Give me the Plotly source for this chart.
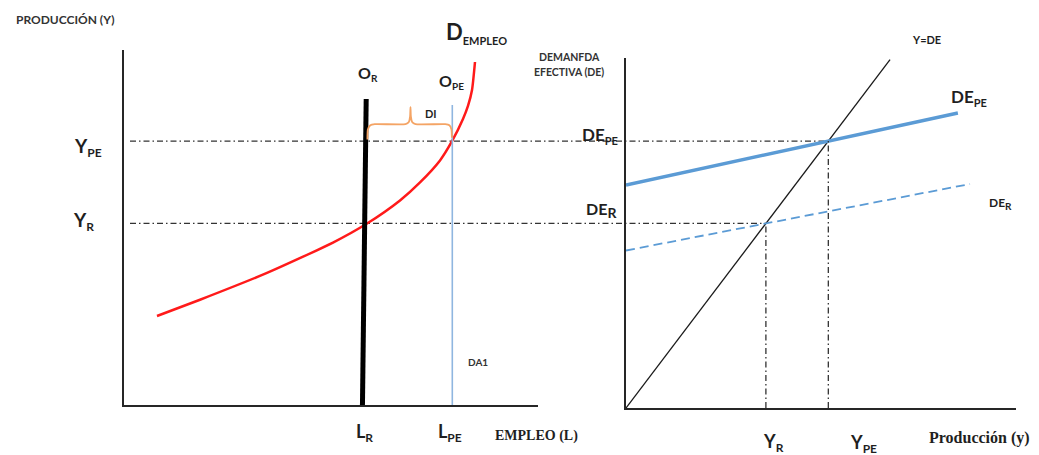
import plotly.graph_objects as go

W, H = 1039, 455

# ---------------- DATA ----------------
# Left panel: labour market (x = employment L, y = production Y), axis units 0..100
demp_L = [7.97, 18.36, 34.54, 50.48, 58.70, 66.67, 71.50, 76.33, 79.23, 81.88, 83.09, 84.06, 84.78]
demp_Y = [25.07, 29.66, 37.21, 45.77, 51.13, 57.63, 62.70, 68.90, 74.31, 80.56, 84.23, 88.73, 96.62]
or_L = [58.5, 57.6]          # O_R (thick black)
or_Y = [86.2, 0.0]
ope_L = [79.3, 79.3]         # O_PE (thin blue)
ope_Y = [84.5, -0.8]
brace_L = [58.8, 58.9, 59.5, 60.6, 68.0, 68.8, 69.1, 69.2, 69.3, 69.6, 70.4, 77.6, 78.6, 79.1, 79.2]
brace_Y = [74.8, 77.6, 78.8, 79.1, 79.1, 79.7, 81.2, 83.9, 81.2, 79.7, 79.1, 79.1, 78.8, 77.6, 75.3]

# Right panel: effective demand (x = production y, y = DE), axis units 0..100
yde_x = [0.0, 67.7]
yde_slope = 1.47
depe_x = [0.0, 85.1]
depe_y = [63.7, 84.3]
der_x = [0.0, 88.2]
der_y = [45.0, 64.0]

# ---------------- GEOMETRY ----------------
L_dom = [124 / W, 538 / W]
L_ydom = [(H - 405) / H, (H - 50) / H]
R_dom = [626 / W, 1016 / W]
R_ydom = [(H - 408) / H, (H - 58) / H]


def px(x):
    return x / W


def py(y):
    return 1 - y / H


def cross(xs, ys):
    b = (ys[1] - ys[0]) / (xs[1] - xs[0])
    a = ys[0]
    xi = a / (yde_slope - b)
    return xi, yde_slope * xi


xi_pe, yi_pe = cross(depe_x, depe_y)
xi_r, yi_r = cross(der_x, der_y)


def x2_to_paper(v):
    return R_dom[0] + v / 100 * (R_dom[1] - R_dom[0])


DASHDOT = "6px,3px,1.5px,3px"
AX = "#262626"

fig = go.Figure()

# Left panel traces
fig.add_trace(go.Scatter(x=demp_L, y=demp_Y, mode="lines", line=dict(color="#ff1a1a", width=2.5, shape="spline", smoothing=0.6),
                         xaxis="x", yaxis="y", hoverinfo="skip"))
fig.add_trace(go.Scatter(x=ope_L, y=ope_Y, mode="lines", line=dict(color="#8fb6e0", width=1.6),
                         xaxis="x", yaxis="y", hoverinfo="skip", cliponaxis=False))
fig.add_trace(go.Scatter(x=or_L, y=or_Y, mode="lines", line=dict(color="#000000", width=5),
                         xaxis="x", yaxis="y", hoverinfo="skip"))
fig.add_trace(go.Scatter(x=brace_L, y=brace_Y, mode="lines", line=dict(color="#f4a465", width=1.8, shape="spline", smoothing=0.5),
                         xaxis="x", yaxis="y", hoverinfo="skip"))

# Right panel traces
fig.add_trace(go.Scatter(x=yde_x, y=[v * yde_slope for v in yde_x], mode="lines", line=dict(color="#1a1a1a", width=1.3),
                         xaxis="x2", yaxis="y2", hoverinfo="skip"))
fig.add_trace(go.Scatter(x=depe_x, y=depe_y, mode="lines", line=dict(color="#5b9bd5", width=3.5),
                         xaxis="x2", yaxis="y2", hoverinfo="skip"))
fig.add_trace(go.Scatter(x=der_x, y=der_y, mode="lines", line=dict(color="#5b9bd5", width=1.8, dash="9px,5px"),
                         xaxis="x2", yaxis="y2", hoverinfo="skip"))
for xi, yi in [(xi_r, yi_r), (xi_pe, yi_pe)]:
    fig.add_trace(go.Scatter(x=[xi, xi], y=[0, yi], mode="lines", line=dict(color="#333333", width=1.3, dash=DASHDOT),
                             xaxis="x2", yaxis="y2", hoverinfo="skip"))

# Horizontal dash-dot guides spanning both panels
shapes = []
for xi, yi in [(xi_pe, yi_pe), (xi_r, yi_r)]:
    shapes.append(dict(type="line", xref="paper", yref="y2", x0=px(130), x1=x2_to_paper(xi), y0=yi, y1=yi,
                       line=dict(color="#333333", width=1.3, dash=DASHDOT), layer="below"))

SANS = "Lato, 'Open Sans', sans-serif"
SERIF = "'Liberation Serif', 'DejaVu Serif', serif"
ann = []


def lab(text, x, y, size, anchor="left", font=SANS, color="#1f1f1f"):
    ann.append(dict(text="<b>" + text + "</b>", x=px(x), y=py(y), xref="paper", yref="paper", showarrow=False,
                    xanchor=anchor, yanchor="middle", font=dict(family=font, size=size, color=color)))


def sub(s, size):
    return "<sub><span style='font-size:%dpx'>%s</span></sub>" % (size, s)


lab("PRODUCCIÓN (Y)", 65, 20, 12, anchor="center", color="#333333")
lab("D" + sub("EMPLEO", 11), 444, 33, 22)
lab("O" + sub("R", 10), 356, 73, 16)
lab("O" + sub("PE", 10), 437, 81, 16)
lab("Y" + sub("PE", 12), 72, 147, 19)
lab("Y" + sub("R", 12), 71, 221, 19)
lab("L" + sub("R", 12), 354, 432, 18)
lab("L" + sub("PE", 12), 436, 432, 18)
lab("EMPLEO (L)", 493, 436, 14, font=SERIF)
lab("DA1", 466, 362, 10, color="#333333")
lab("DI", 423, 113, 11)
lab("DEMANFDA", 569, 57, 10.5, anchor="center", color="#333333")
lab("EFECTIVA (DE)", 569, 72, 10.5, anchor="center", color="#333333")
lab("Y=DE", 910, 39, 11)
lab("DE" + sub("PE", 11), 949, 97, 17)
lab("DE" + sub("PE", 11), 580, 135, 17)
lab("DE" + sub("R", 14), 584, 210, 16)
lab("DE" + sub("R", 10), 987, 203, 12)
lab("Y" + sub("R", 12), 761, 442, 18)
lab("Y" + sub("PE", 12), 848, 443, 18)
lab("Producción (y)", 927, 438, 16, font=SERIF)

axcommon = dict(showline=True, linecolor=AX, linewidth=1.6, showgrid=False, zeroline=False,
                showticklabels=False, ticks="", range=[0, 100], fixedrange=True)

fig.update_layout(
    width=W, height=H, margin=dict(l=0, r=0, t=0, b=0),
    paper_bgcolor="white", plot_bgcolor="white", showlegend=False,
    xaxis=dict(domain=L_dom, anchor="y", **axcommon),
    yaxis=dict(domain=L_ydom, anchor="x", **axcommon),
    xaxis2=dict(domain=R_dom, anchor="y2", **axcommon),
    yaxis2=dict(domain=R_ydom, anchor="x2", **axcommon),
    shapes=shapes, annotations=ann,
)

fig.write_html("out.html", config={"displayModeBar": False},
               post_script="document.body.style.margin='0px';document.body.style.overflow='hidden';")
